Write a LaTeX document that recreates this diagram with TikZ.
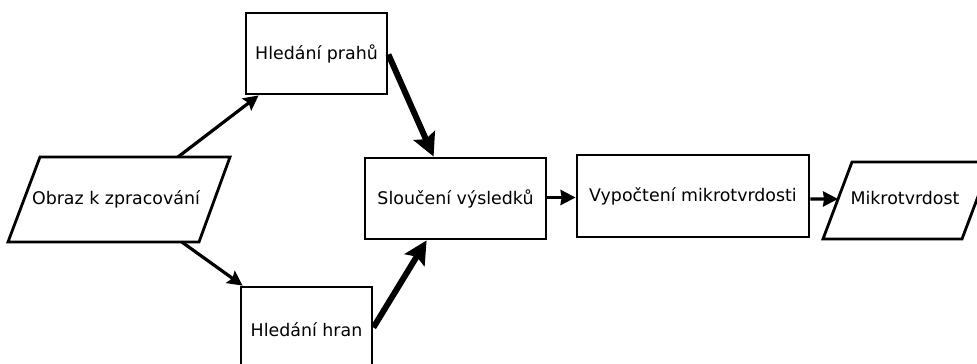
\documentclass[tikz,border=0pt]{standalone}
\usepackage{fontspec}
\setmainfont{DejaVu Sans}
\usetikzlibrary{arrows.meta,calc}
\begin{document}
\begin{tikzpicture}[x=1pt,y=-1pt,
  font=\fontsize{17.4}{20}\selectfont,
  box/.style={draw, line width=2.8pt, inner sep=0pt},
  shapeline/.style={line width=2.8pt, line join=miter},
  thinarrow/.style={line width=3.2pt, -{Stealth[length=15pt,width=15pt,inset=2.5pt]}},
  thickarrow/.style={line width=6pt, -{Stealth[length=23pt,width=23pt,inset=4pt]}},
  harrow/.style={line width=3.2pt, -{Stealth[length=15pt,width=15pt,inset=1pt]}}]
\useasboundingbox (0,0) rectangle (977,364);

% parallelogram: input
\coordinate (oTL) at (40,157);
\coordinate (oTR) at (230,157);
\coordinate (oBR) at (199,242);
\coordinate (oBL) at (8,242);
\draw[shapeline] (oTL) -- (oTR) -- (oBR) -- (oBL) -- cycle;
\node (obraz) at (116,199) {Obraz k zpracování};

% boxes
\node[box, minimum width=141pt, minimum height=81pt] (prahy) at (316.5,53.5) {Hledání prahů};
\node[box, minimum width=131pt, minimum height=85pt] (hrany) at (306.5,329.5) {Hledání hran};
\node[box, minimum width=181pt, minimum height=81pt] (slouceni) at (455.5,198.5) {Sloučení výsledků};
\node[box, minimum width=232pt, minimum height=82pt] (vypocet) at (693,196) {Vypočtení mikrotvrdosti};

% parallelogram: output
\coordinate (mTL) at (852,162);
\coordinate (mTR) at (991,162);
\coordinate (mBR) at (962,239);
\coordinate (mBL) at (823,239);
\draw[shapeline] (mTL) -- (mTR) -- (mBR) -- (mBL) -- cycle;
\node (mikro) at (905,198) {Mikrotvrdost};
\coordinate (mIn) at ($(mTL)!0.48!(mBL)$);

% connectors
\draw[thinarrow] ($(oTL)!0.726!(oTR)$) -- ($(prahy.south west)+(14,0)$);
\draw[thinarrow] ($(oBL)!0.91!(oBR)$) -- ($(hrany.north west)+(3,0)$);
\draw[thickarrow] ($(prahy.east)+(0,1)$) -- ($(slouceni.north west)+(70,0)$);
\draw[thickarrow] ($(hrany.east)+(0,-2)$) -- ($(slouceni.south west)+(63,0)$);
\draw[harrow] ($(slouceni.east)+(0,-1)$) -- ($(vypocet.west)+(0,1.5)$);
\draw[harrow] ($(vypocet.east)+(0,3)$) -- (mIn);
\end{tikzpicture}
\end{document}
